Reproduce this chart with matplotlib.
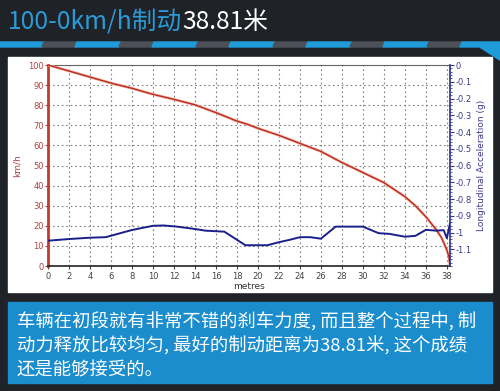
import matplotlib.pyplot as plt
from matplotlib.patches import Rectangle, Polygon

# speed trace (km/h vs metres)
speed_m = [0, 2, 4, 6, 8, 10, 12, 14, 16, 18, 19, 20, 22, 24, 26, 28, 30, 32, 34, 35, 36, 37, 37.5, 38, 38.2, 38.3]
speed_kmh = [100, 97, 94, 91, 88.4, 85.4, 82.9, 80.2, 76.3, 72.1, 70.5, 68.5, 65, 61, 57, 51.5, 46.5, 41.5,
             34.5, 30, 24.5, 18, 14, 8, 4.5, 0]

# longitudinal acceleration (g vs metres)
acc_m = [0, 2, 4, 5.5, 8, 10, 11, 12.3, 14, 15, 16.8, 18.8, 20.9, 22, 23, 24, 25, 26, 27.4, 30, 31.5, 32.5, 34, 35, 36, 37, 37.7, 38, 38.3]
acc_g = [-1.049, -1.039, -1.031, -1.028, -0.985, -0.96, -0.958, -0.965, -0.979, -0.989, -0.995, -1.076, -1.076,
         -1.058, -1.044, -1.028, -1.028, -1.037, -0.965, -0.965, -1.004, -1.008, -1.025, -1.02, -0.984, -0.989,
         -0.986, -1.034, -0.946]

x_ticks = list(range(0, 39, 2))
title_a = "100-0km/h制动"
title_b = "38.81米"
comment = ["车辆在初段就有非常不错的刹车力度, 而且整个过程中, 制",
           "动力释放比较均匀, 最好的制动距离为38.81米, 这个成绩",
           "还是能够接受的。"]

BG = "#1f2328"
BLUE = "#1b8dcc"
cjk = ["Noto Sans CJK SC", "DejaVu Sans"]

fig = plt.figure(figsize=(5, 3.91), dpi=100)
fig.patch.set_facecolor(BG)

# stripe under the title
period, blue_w = 77, 42
x = 0
while x < 500:
    fig.patches.append(Polygon([(x / 500, 1 - 42 / 391), ((x + blue_w + 2) / 500, 1 - 42 / 391),
                                ((x + blue_w) / 500, 1 - 47 / 391), ((x - 2) / 500, 1 - 47 / 391)],
                               transform=fig.transFigure, color="#1e9bd8", zorder=-1))
    fig.patches.append(Polygon([((x + blue_w + 2) / 500, 1 - 42 / 391), ((x + period) / 500, 1 - 42 / 391),
                                ((x + period - 2) / 500, 1 - 47 / 391), ((x + blue_w) / 500, 1 - 47 / 391)],
                               transform=fig.transFigure, color="#4c5058", zorder=-1))
    x += period
fig.patches.append(Polygon([(480 / 500, 1 - 47 / 391), (500 / 500, 1 - 47 / 391), (500 / 500, 1 - 60 / 391)],
                           transform=fig.transFigure, color="#1e9bd8", zorder=-1))

# white chart panel and blue text box
fig.patches.append(Rectangle((8 / 500, 1 - 292 / 391), 484 / 500, 235 / 391,
                             transform=fig.transFigure, color="white", zorder=-1))
fig.patches.append(Rectangle((8 / 500, 1 - 383 / 391), 484 / 500, 81 / 391,
                             transform=fig.transFigure, color=BLUE, zorder=-1))

# comment text
for i, line in enumerate(comment):
    fig.text(17 / 500, 1 - (322 + i * 24) / 391, line, color="white", fontsize=13.2, va="center", ha="left", family=cjk)

ax = fig.add_axes([48 / 500, 1 - 266 / 391, 402 / 500, 201 / 391])
ax.set_facecolor("white")
ax.plot(speed_m, speed_kmh, color="#f0a090", lw=1.9, zorder=3)
ax.plot(speed_m, speed_kmh, color="#b8281e", lw=0.9, zorder=4)
ax.set_xlim(0, 38.3)
ax.set_ylim(0, 100)
ax.set_xticks(x_ticks)
ax.set_yticks(range(0, 101, 10))
ax.grid(True, color="#808080", linestyle=(0, (1.5, 2.5)), lw=0.8)
ax.tick_params(axis="x", labelsize=6, colors="#444444", length=2, pad=2)
ax.tick_params(axis="y", labelsize=6, colors="#b04040", length=2, pad=1)
ax.spines["left"].set_color("#c03a30")
ax.spines["left"].set_linewidth(2.0)
ax.spines["bottom"].set_color("#222222")
ax.spines["bottom"].set_linewidth(1.2)
ax.spines["top"].set_color("#666666")
ax.spines["right"].set_visible(False)
ax.set_xlabel("metres", fontsize=6.5, color="#333333", labelpad=1)
ax.set_ylabel("km/h", fontsize=6.5, color="#b04040", labelpad=5)

# title (second part placed right after the first)
t1 = fig.text(8 / 500, 1 - 22 / 391, title_a, color="#2b9ad6", fontsize=17.8, va="center", ha="left", family=cjk)
ax.annotate(title_b, xy=(1, 0.5), xycoords=t1, va="center", ha="left", color="white", fontsize=17.8,
            family=cjk, annotation_clip=False)

ax2 = ax.twinx()
ax2.plot(acc_m, acc_g, color="#1a1f8c", lw=1.4, zorder=5)
ax2.set_ylim(-1.2, 0)
ax2.set_yticks([-1.1, -1.0, -0.9, -0.8, -0.7, -0.6, -0.5, -0.4, -0.3, -0.2, -0.1, 0])
ax2.set_yticklabels(["-1.1", "-1", "-0.9", "-0.8", "-0.7", "-0.6", "-0.5", "-0.4", "-0.3", "-0.2", "-0.1", "0"])
ax2.set_yticks([v / 50 - 1.2 for v in range(61)], minor=True)
ax2.tick_params(axis="y", which="major", labelsize=6, colors="#3a3a80", length=3, pad=1)
ax2.tick_params(axis="y", which="minor", colors="#3a3a80", length=1.5)
ax2.spines["right"].set_color("#2a2f8c")
ax2.spines["right"].set_linewidth(1.2)
for s in ["left", "top", "bottom"]:
    ax2.spines[s].set_visible(False)
ax2.set_ylabel("Longitudinal Acceleration (g)", fontsize=6.5, color="#3a3a90", labelpad=4)

fig.savefig("out.png", dpi=100, facecolor=BG)
